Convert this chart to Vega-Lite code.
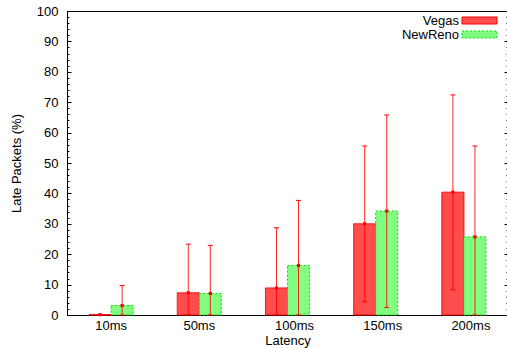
{
  "$schema": "https://vega.github.io/schema/vega-lite/v6.json",
  "width": 441,
  "height": 304,
  "autosize": {"type": "none"},
  "padding": {"left": 67, "top": 11, "right": 0, "bottom": 33},
  "background": "white",
  "config": {
    "font": "Liberation Sans",
    "view": {"stroke": "black", "strokeWidth": 1},
    "axis": {
      "labelFontSize": 13, "titleFontSize": 13, "titleFontWeight": "normal",
      "labelColor": "black", "titleColor": "black", "domainColor": "black",
      "tickColor": "black", "grid": false, "labelFont": "Liberation Sans", "titleFont": "Liberation Sans"
    }
  },
  "data": {"values": [
    {"latency": "10ms", "series": "Vegas", "value": 0.1, "low": 0, "high": 0.2},
    {"latency": "10ms", "series": "NewReno", "value": 3.1, "low": 0, "high": 9.7},
    {"latency": "50ms", "series": "Vegas", "value": 7.3, "low": 0, "high": 23.3},
    {"latency": "50ms", "series": "NewReno", "value": 7.1, "low": 0, "high": 22.9},
    {"latency": "100ms", "series": "Vegas", "value": 8.9, "low": 0, "high": 28.7},
    {"latency": "100ms", "series": "NewReno", "value": 16.3, "low": 0, "high": 37.7},
    {"latency": "150ms", "series": "Vegas", "value": 30.0, "low": 4.4, "high": 55.6},
    {"latency": "150ms", "series": "NewReno", "value": 34.2, "low": 2.5, "high": 65.8},
    {"latency": "200ms", "series": "Vegas", "value": 40.4, "low": 8.3, "high": 72.4},
    {"latency": "200ms", "series": "NewReno", "value": 25.7, "low": 0, "high": 55.6}
  ]},
  "encoding": {
    "x": {
      "field": "latency", "type": "nominal",
      "sort": ["10ms", "50ms", "100ms", "150ms", "200ms"],
      "scale": {"paddingInner": 0.5, "paddingOuter": 0.25},
      "axis": {
        "title": "Latency", "labelAngle": 0, "ticks": false, "labelPadding": 4, "titlePadding": 2,
        "labelOffset": {"condition": {"test": "length(datum.label) > 4", "value": 7}, "value": 0}
      }
    },
    "xOffset": {"field": "series", "type": "nominal", "sort": ["Vegas", "NewReno"], "scale": {"paddingInner": 0, "paddingOuter": 0}}
  },
  "layer": [
    {
      "mark": {"type": "bar", "strokeWidth": 1, "opacity": 1},
      "encoding": {
        "y": {
          "field": "value", "type": "quantitative",
          "scale": {"domain": [0, 100], "nice": false},
          "axis": {
            "orient": "left", "values": [0, 10, 20, 30, 40, 50, 60, 70, 80, 90, 100],
            "tickSize": -4, "labelPadding": 13, "title": "Late Packets (%)",
            "titleX": -51, "titleY": 152, "titleAngle": -90, "titleBaseline": "middle", "titleAlign": "center"
          }
        },
        "color": {
          "field": "series", "type": "nominal",
          "scale": {"domain": ["Vegas", "NewReno"], "range": ["#ff4d4d", "#80ff80"]},
          "legend": {
            "title": null, "orient": "none", "legendX": 406, "legendY": 3,
            "symbolType": "M-5,-1H5V1H-5Z", "symbolSize": 49, "labelAlign": "right", "labelOffset": -27,
            "labelFontSize": 13, "labelFont": "Liberation Sans", "labelColor": "black", "padding": 0, "rowPadding": 0,
            "symbolStrokeWidth": 1, "symbolOpacity": 1
          }
        },
        "stroke": {
          "field": "series", "type": "nominal",
          "scale": {"domain": ["Vegas", "NewReno"], "range": ["#ff0000", "#00e000"]},
          "legend": {
            "title": null, "orient": "none", "legendX": 406, "legendY": 3,
            "symbolType": "M-5,-1H5V1H-5Z", "symbolSize": 49, "labelAlign": "right", "labelOffset": -27,
            "labelFontSize": 13, "labelFont": "Liberation Sans", "labelColor": "black", "padding": 0, "rowPadding": 0,
            "symbolStrokeWidth": 1, "symbolOpacity": 1
          }
        },
        "strokeDash": {
          "field": "series", "type": "nominal",
          "scale": {"domain": ["Vegas", "NewReno"], "range": [[1, 0], [2, 2]]},
          "legend": {
            "title": null, "orient": "none", "legendX": 406, "legendY": 3,
            "symbolType": "M-5,-1H5V1H-5Z", "symbolSize": 49, "labelAlign": "right", "labelOffset": -27,
            "labelFontSize": 13, "labelFont": "Liberation Sans", "labelColor": "black", "padding": 0, "rowPadding": 0,
            "symbolStrokeWidth": 1, "symbolOpacity": 1
          }
        }
      }
    },
    {
      "mark": {"type": "rule", "color": "#ff0000", "strokeWidth": 1, "opacity": 0.85},
      "encoding": {
        "y": {
          "field": "low", "type": "quantitative",
          "axis": {"orient": "left", "values": [0,2,4,6,8,10,12,14,16,18,20,22,24,26,28,30,32,34,36,38,40,42,44,46,48,50,52,54,56,58,60,62,64,66,68,70,72,74,76,78,80,82,84,86,88,90,92,94,96,98,100],
                   "tickSize": -2, "labels": false, "domain": false, "title": null}
        },
        "y2": {"field": "high"}
      }
    },
    {
      "mark": {"type": "tick", "color": "#ff0000", "orient": "horizontal", "size": 5, "thickness": 1, "opacity": 1},
      "encoding": {
        "y": {
          "field": "high", "type": "quantitative",
          "axis": {"orient": "right", "values": [0,2,4,6,8,10,12,14,16,18,20,22,24,26,28,30,32,34,36,38,40,42,44,46,48,50,52,54,56,58,60,62,64,66,68,70,72,74,76,78,80,82,84,86,88,90,92,94,96,98,100],
                   "tickSize": -2, "labels": false, "domain": false, "title": null}
        }
      }
    },
    {
      "mark": {"type": "tick", "color": "#ff0000", "orient": "horizontal", "size": 5, "thickness": 1, "opacity": 1},
      "encoding": {
        "y": {
          "field": "low", "type": "quantitative",
          "axis": {"orient": "right", "values": [0, 10, 20, 30, 40, 50, 60, 70, 80, 90, 100],
                   "tickSize": -4, "labels": false, "domain": false, "title": null}
        }
      }
    },
    {
      "mark": {"type": "point", "shape": "square", "filled": true, "color": "#ff0000", "size": 10, "opacity": 1},
      "encoding": {
        "y": {"field": "value", "type": "quantitative", "axis": null}
      }
    }
  ],
  "resolve": {"axis": {"y": "independent"}}
}
